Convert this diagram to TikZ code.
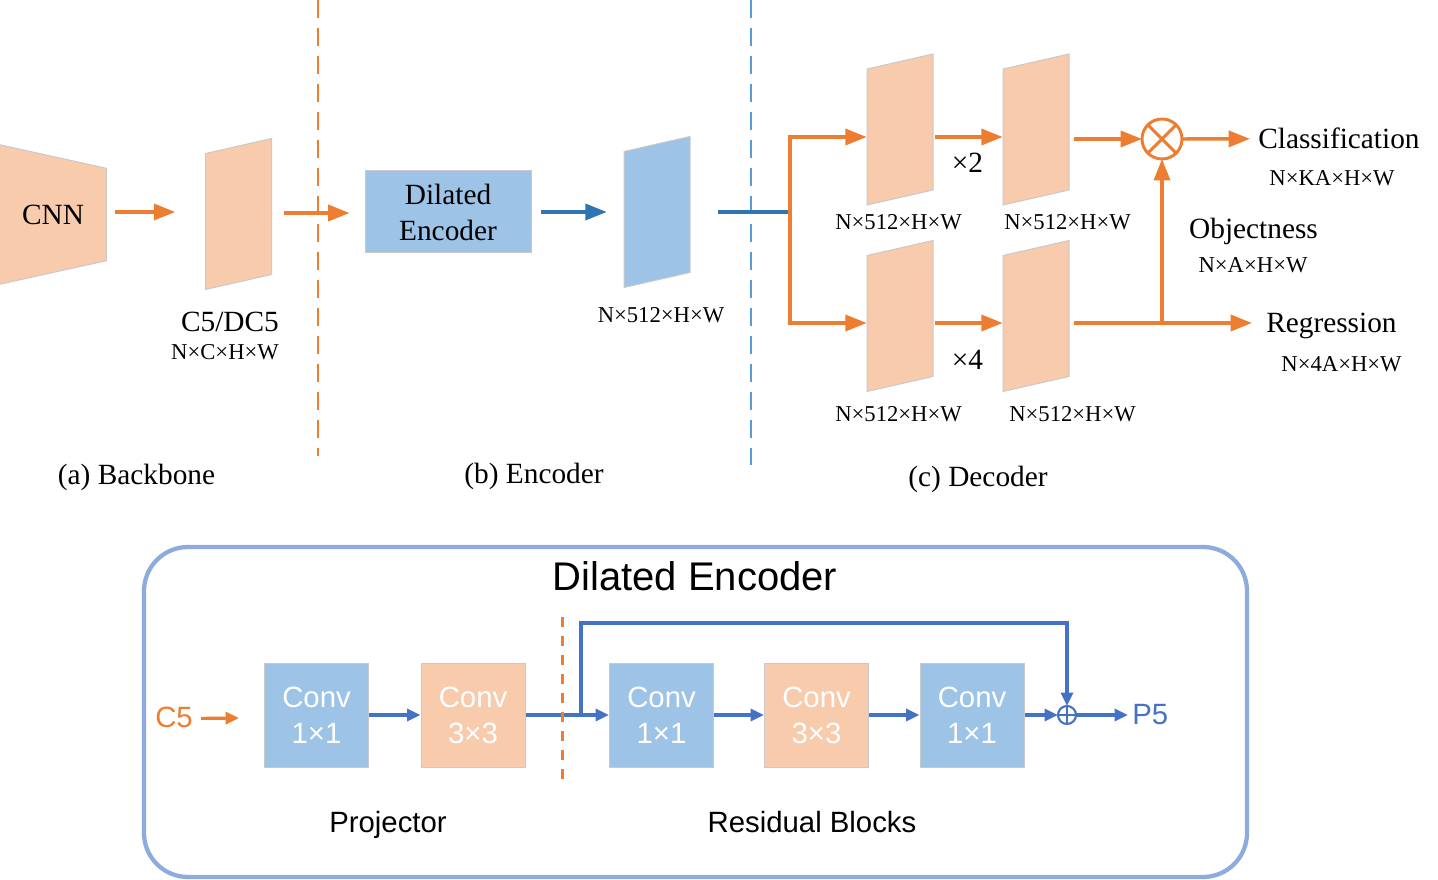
\documentclass[tikz,border=0pt]{standalone}
\usepackage{fontspec}
\setmainfont{Liberation Serif}
\setsansfont{Liberation Sans}
\usetikzlibrary{arrows.meta,calc,backgrounds}
\definecolor{orng}{HTML}{ED7D31}
\definecolor{peach}{HTML}{F8CBAD}
\definecolor{lblue}{HTML}{9DC3E6}
\definecolor{dblue}{HTML}{2E75B6}
\definecolor{dashblue}{HTML}{5B9BD5}
\definecolor{bblue}{HTML}{4472C4}
\definecolor{frame}{HTML}{8FAADC}
\definecolor{shgray}{HTML}{C9C9C9}
\newcommand\mypara[3]{%
  \node[inner sep=0,minimum width=49.5pt,minimum height=113.25pt] (#1) at (#2) {};
  \draw[shapeline,fill=#3] ($(#1.center)+(-33,-60.5)$) -- ++(0,136) -- ++(66,-15) -- ++(0,-136) -- cycle;}
\begin{document}
\begin{tikzpicture}[x=0.75pt,y=-0.75pt,
  every node/.style={inner sep=0},
  big/.style={font=\fontsize{22}{27}\selectfont},
  small/.style={font=\fontsize{17}{20}\selectfont},
  sfbig/.style={font=\sffamily\fontsize{22}{27}\selectfont},
  oline/.style={draw=orng,line width=2.6pt},
  oarrow/.style={oline,-{Triangle[length=16pt,width=12pt]}},
  barrow/.style={draw=dblue,line width=2.6pt,-{Triangle[length=16pt,width=12pt]}},
  bline/.style={draw=dblue,line width=2.6pt},
  rarrow/.style={draw=bblue,line width=2.4pt,-{Triangle[length=10pt,width=9pt]}},
  carrow/.style={draw=orng,line width=2.4pt,-{Triangle[length=10pt,width=9pt]}},
  shapeline/.style={draw=shgray,line width=0.75pt},
  odash/.style={draw=orng,line width=1.9pt,dash pattern=on 13.5pt off 7.5pt},
  bdash/.style={draw=dashblue,line width=1.9pt,dash pattern=on 13.5pt off 7.5pt},
  odash2/.style={draw=orng,line width=1.7pt,dash pattern=on 7.5pt off 6.75pt},
  conv/.style={draw=shgray,line width=0.75pt,minimum width=78pt,minimum height=78pt,align=center,text=white,sfbig},
]
\useasboundingbox (0,0) rectangle (1438,880);

% ---------- top: backbone ----------
\node[minimum width=79.5pt,minimum height=104.25pt,big] (cnn) at (53,214.5) {CNN};
\begin{scope}[on background layer]
\draw[shapeline,fill=peach] (cnn.north west) -- ($(cnn.north east)+(0,23.5)$) -- ($(cnn.south east)+(0,-23.5)$) -- (cnn.south west) -- cycle;
\end{scope}
\mypara{c5p}{238.5,214}{peach}
\node[big,anchor=base] (c5lab) at (230,332) {C5/DC5};
\node[small,anchor=base] (c5dim) at (225,359) {N×C×H×W};
\draw[oarrow] ($(cnn.east)+(9,-2.5)$) -- ($(c5p.west)+(-30,-2)$);

\draw[odash] (318,0) -- (318,456);
\draw[bdash] (751,0) -- (751,465);

% ---------- top: encoder ----------
\node[draw=shgray,line width=0.75pt,fill=lblue,minimum width=124.5pt,minimum height=61.5pt,align=center,big] (de) at (448,212) {Dilated\\Encoder};
\draw[oarrow] ($(c5p.east)+(12,-1)$) -- ($(de.west)+(-15,1)$);
\mypara{encp}{657,212}{lblue}
\node[small,anchor=base] (encdim) at (661,323) {N×512×H×W};
\draw[barrow] ($(de.east)+(9,0)$) -- ($(encp.west)+(-17,0)$);

% ---------- top: decoder ----------
\coordinate (split) at (790,212);
\draw[bline] ($(encp.east)+(28,0)$) -- ($(split)+(-1,0)$);
\mypara{d1}{900,129.5}{peach}
\mypara{d2}{1036,129.5}{peach}
\mypara{d3}{900,316}{peach}
\mypara{d4}{1036,316}{peach}
\draw[oarrow] (split) |- ($(d1.west)+(0,7.5)$);
\draw[oarrow] (split) |- ($(d3.west)+(0,7)$);
\draw[oarrow] ($(d1.east)+(2,7.5)$) -- ($(d2.west)+(0,7.5)$);
\draw[oarrow] ($(d3.east)+(2,7)$) -- ($(d4.west)+(0,7)$);
\node[small,anchor=base] (d1dim) at (898.5,230) {N×512×H×W};
\node[small,anchor=base] (d2dim) at (1067.5,230) {N×512×H×W};
\node[small,anchor=base] (d3dim) at (898.5,421.5) {N×512×H×W};
\node[small,anchor=base] (d4dim) at (1072.5,421.5) {N×512×H×W};
\node[big,anchor=base] (x2) at (967.5,173) {×2};
\node[big,anchor=base] (x4) at (967.5,370) {×4};

\node[circle,draw=orng,line width=2.2pt,minimum size=30pt,outer sep=0] (ot) at (1162,139) {};
\draw[orng,line width=2.2pt] (ot.north west) -- (ot.south east) (ot.north east) -- (ot.south west);
\node[big,anchor=base west] (cls) at (1258,149) {Classification};
\node[small,anchor=base] (clsdim) at (1332,186) {N×KA×H×W};
\node[big,anchor=base] (obj) at (1253.5,239) {Objectness};
\node[small,anchor=base] (objdim) at (1253,273) {N×A×H×W};
\node[big,anchor=base west] (reg) at (1266,333) {Regression};
\node[small,anchor=base] (regdim) at (1341.5,371.5) {N×4A×H×W};
\draw[oarrow] ($(d2.east)+(5,9.5)$) -- (ot.west);
\draw[oarrow] (ot.east) -- ($(cls.west)+(-8,0)$);
\coordinate (jn) at ($(d4.east)+(0,7)$);
\draw[oarrow] ($(d4.east)+(5,7)$) -- ($(reg.west |- jn)+(-14,0)$);
\draw[oarrow] (ot |- jn) -- (ot.south);

\node[big,anchor=base] (capa) at (136.5,484) {(a) Backbone};
\node[big,anchor=base] (capb) at (534,483) {(b) Encoder};
\node[big,anchor=base] (capc) at (978,486) {(c) Decoder};

% ---------- bottom: dilated encoder ----------
\node[draw=frame,line width=3.2pt,rounded corners=33pt,minimum width=827.25pt,minimum height=247.5pt] (panel) at (695.5,712) {};
\node[anchor=base,font=\sffamily\fontsize{30}{36}\selectfont] (title) at (695,590) {Dilated Encoder};
\node[conv,fill=lblue] (cv1) at (316.5,715) {Conv\\1×1};
\node[conv,fill=peach] (cv2) at (473,715) {Conv\\3×3};
\node[conv,fill=lblue] (cv3) at (661.5,715) {Conv\\1×1};
\node[conv,fill=peach] (cv4) at (816.5,715) {Conv\\3×3};
\node[conv,fill=lblue] (cv5) at (972,715) {Conv\\1×1};
\node[circle,draw=bblue,line width=1.6pt,minimum size=13.5pt,outer sep=0] (op) at (1067,715) {};
\draw[bblue,line width=1.6pt] (op.north) -- (op.south) (op.west) -- (op.east);
\node[sfbig,text=orng,anchor=base west] (c5in) at (155,727) {C5};
\node[sfbig,text=bblue,anchor=base west] (p5) at (1132,724) {P5};
\coordinate (p5in) at ($(p5.west)+(-4,0)$);
\draw[carrow] ($(c5in.east)+(8,1.5)$) -- ($(cv1.west)+(-25,3)$);
\draw[rarrow] (cv1.east) -- (cv2.west);
\draw[rarrow] (cv2.east) -- (cv3.west);
\draw[rarrow] (cv3.east) -- (cv4.west);
\draw[rarrow] (cv4.east) -- (cv5.west);
\draw[rarrow] (cv5.east) -- (op.west);
\draw[rarrow] (op.east) -- (op.east -| p5in);
\coordinate (br) at (581,715);
\coordinate (skip) at (581,623);
\draw[rarrow] (br) -- (skip) -| (op.north);
\draw[odash2] (562.5,617) -- (562.5,786);
\node[sfbig,anchor=base] (proj) at (388,832) {Projector};
\node[sfbig,anchor=base] (resb) at (812,832) {Residual Blocks};
\end{tikzpicture}
\end{document}
